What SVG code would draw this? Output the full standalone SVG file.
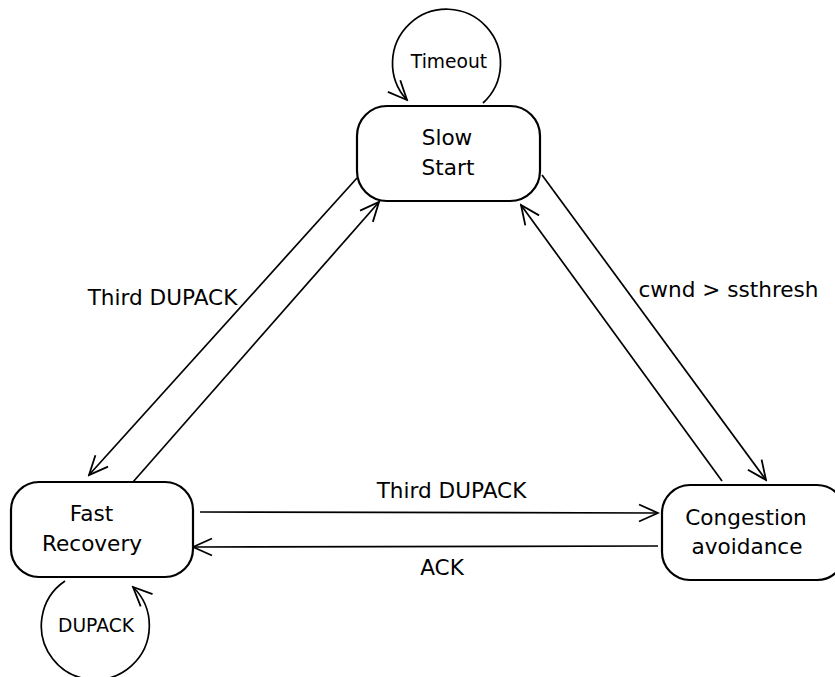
<svg xmlns="http://www.w3.org/2000/svg" width="835" height="677" viewBox="0 0 835 677">
  <style>
    .state { fill: #ffffff; stroke: #000000; stroke-width: 2.2; }
    .edge { fill: none; stroke: #000000; stroke-width: 1.7; marker-end: url(#openArrow); }
    text { font-family: "DejaVu Sans", "Liberation Sans", sans-serif; fill: #000000; text-anchor: middle; }
    .big { font-size: 21.6px; }
    .small { font-size: 18.7px; }
  </style>
  <defs>
    <marker id="openArrow" markerUnits="userSpaceOnUse" viewBox="-22 -11 24 22" refX="0" refY="0" markerWidth="24" markerHeight="22" orient="auto">
      <path d="M -19 -8.5 L 0 0 L -19 8.5" fill="none" stroke="#000000" stroke-width="1.8"/>
    </marker>
  </defs>
  <rect width="835" height="677" fill="#ffffff"/>

  <g id="connectors">
    <!-- self loop on Slow Start -->
    <path class="edge" d="M 483 103 A 54 54 0 1 0 407 100"/>
    <!-- self loop on Fast Recovery -->
    <path class="edge" d="M 65 581 A 54 54 0 1 0 133 587"/>
    <!-- Slow Start to Fast Recovery -->
    <path class="edge" d="M 357 178 L 89 475"/>
    <!-- Fast Recovery to Slow Start -->
    <path class="edge" d="M 133 482 L 379 202"/>
    <!-- Slow Start to Congestion avoidance -->
    <path class="edge" d="M 542 175 L 766 480"/>
    <!-- Congestion avoidance to Slow Start -->
    <path class="edge" d="M 722 481 L 521 205"/>
    <!-- Fast Recovery to Congestion avoidance -->
    <path class="edge" d="M 200 512 L 658 513"/>
    <!-- Congestion avoidance to Fast Recovery -->
    <path class="edge" d="M 658 546 L 193 547"/>

    <text class="small" x="449" y="68">Timeout</text>
    <text class="small" x="96" y="632">DUPACK</text>
    <text class="big" x="162.5" y="305">Third DUPACK</text>
    <text class="big" x="728.5" y="297">cwnd &gt; ssthresh</text>
    <text class="big" x="451.5" y="498">Third DUPACK</text>
    <text class="big" x="442" y="575">ACK</text>
  </g>

  <g id="slow-start">
    <rect class="state" x="357" y="106" width="183" height="95" rx="30" ry="30"/>
    <text class="big" x="447" y="145">Slow</text>
    <text class="big" x="448" y="175">Start</text>
  </g>

  <g id="fast-recovery">
    <rect class="state" x="11" y="482" width="182" height="95" rx="28" ry="28"/>
    <text class="big" x="91.5" y="521">Fast</text>
    <text class="big" x="92" y="551">Recovery</text>
  </g>

  <g id="congestion-avoidance">
    <rect class="state" x="662" y="485" width="183" height="95" rx="28" ry="28"/>
    <text class="big" x="746" y="525">Congestion</text>
    <text class="big" x="747" y="554">avoidance</text>
  </g>
</svg>
